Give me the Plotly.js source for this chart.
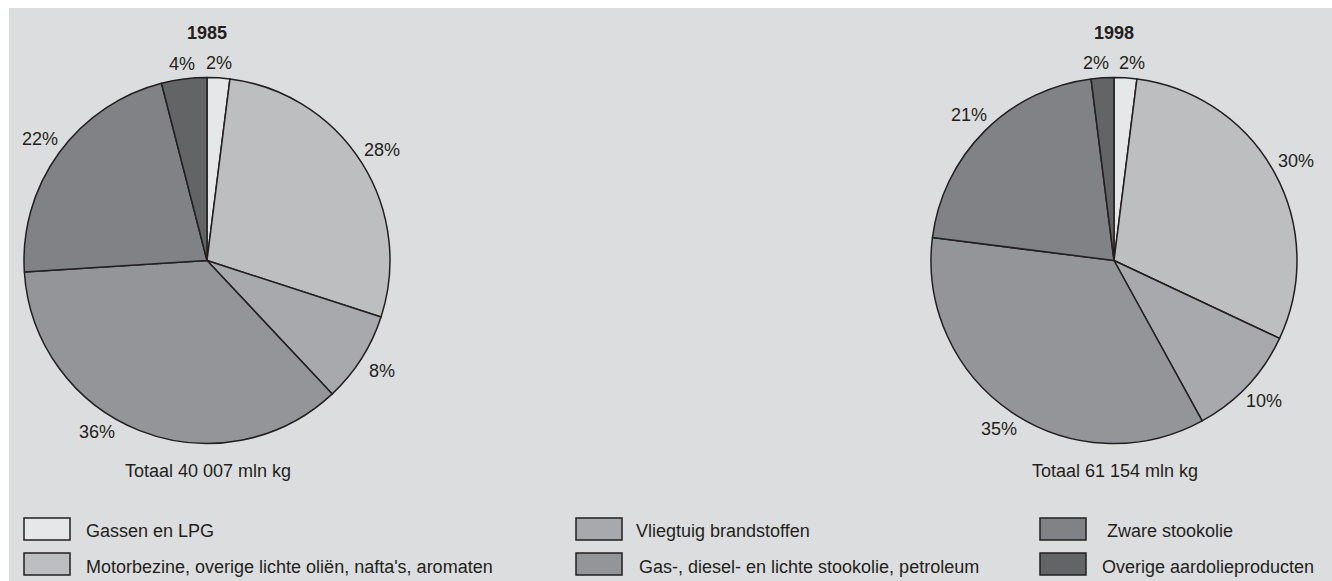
<!DOCTYPE html>
<html>
<head>
<meta charset="utf-8">
<script src="https://cdn.plot.ly/plotly-3.0.1.min.js"></script>
<style>html,body{margin:0;padding:0;background:#fff;}#chart{width:1332px;height:581px;}</style>
</head>
<body>
<div id="chart"></div>
<script>
// ---- data ----
const categories = [
  'Gassen en LPG',
  "Motorbezine, overige lichte oliën, nafta's, aromaten",
  'Vliegtuig brandstoffen',
  'Gas-, diesel- en lichte stookolie, petroleum',
  'Zware stookolie',
  'Overige aardolieproducten'
];
const years = ['1985', '1998'];
const values1985 = [2, 28, 8, 36, 22, 4];
const values1998 = [2, 30, 10, 35, 21, 2];
const totals = ['Totaal 40 007 mln kg', 'Totaal 61 154 mln kg'];

// ---- styling ----
const W = 1332, H = 581;
const colors = ['#e6e7e8', '#bcbec0', '#a7a9ac', '#939598', '#808285', '#636466'];
const ink = '#231f20';
const FONT = 'Liberation Sans, Arial, sans-serif';
const FS = 18;
const px = x => x / W;
const py = y => 1 - y / H;

const R = 183;
const centers = [[207, 260.5], [1114, 260.5]];
const totalsY = 471;
const totalsHalfW = 86;
const seriesValues = [values1985, values1998];

const data = seriesValues.map((vals, i) => {
  const [cx, cy] = centers[i];
  return {
    type: 'pie',
    labels: categories,
    values: vals,
    sort: false,
    direction: 'clockwise',
    rotation: 0,
    marker: {colors: colors, line: {color: ink, width: 1.5}},
    textinfo: 'none',
    hoverinfo: 'none',
    showlegend: false,
    domain: {x: [px(cx - R), px(cx + R)], y: [py(cy + R), py(cy - R)]}
  };
});

const shapes = [{
  type: 'rect', xref: 'paper', yref: 'paper', layer: 'below',
  x0: px(9), x1: 1, y0: 0, y1: py(8),
  fillcolor: '#dcddde', line: {width: 0}
}];
const annotations = [];

// percentage labels placed outside each slice, at its mid angle (same geometry as the pie)
function labelPos(theta, cx, cy) {
  const s = Math.sin(theta), c = Math.cos(theta);
  const D = R + 14 + 12 * Math.abs(s);
  return {x: cx + D * s, y: cy - D * c};
}
function sliceLabels(vals, cx, cy) {
  const total = vals.reduce((a, b) => a + b, 0);
  let cum = 0;
  const labs = vals.map(v => {
    let theta = (cum + v / 2) / total * 2 * Math.PI;
    cum += v;
    const w = (String(v).length * 0.556 + 0.889) * FS;
    let p = labelPos(theta, cx, cy);
    // keep clear of the "Totaal" line under the pie: slide along the rim
    const dir = theta < Math.PI ? -1 : 1;
    let guard = 0;
    while (Math.abs(p.x - cx) < totalsHalfW + w / 2 + 4 &&
           Math.abs(p.y - totalsY) < 39 && guard++ < 90) {
      theta += dir * Math.PI / 180;
      p = labelPos(theta, cx, cy);
    }
    return {x: p.x, y: p.y, text: v + '%', w: w};
  });
  // separate labels that would collide with each other
  for (let iter = 0; iter < 10; iter++) {
    for (let a = 0; a < labs.length; a++) {
      for (let b = a + 1; b < labs.length; b++) {
        const A = labs[a], B = labs[b];
        if (Math.abs(A.y - B.y) < FS) {
          const need = (A.w + B.w) / 2 + 10;
          const d = Math.abs(A.x - B.x);
          if (d < need) {
            const push = (need - d) / 2;
            if (A.x < B.x) { A.x -= push; B.x += push; } else { A.x += push; B.x -= push; }
          }
        }
      }
    }
  }
  return labs;
}

seriesValues.forEach((vals, i) => {
  sliceLabels(vals, centers[i][0], centers[i][1]).forEach(l => {
    annotations.push({
      xref: 'paper', yref: 'paper', x: px(l.x), y: py(l.y),
      xanchor: 'center', yanchor: 'middle', showarrow: false,
      text: l.text, font: {family: FONT, size: FS, color: ink}
    });
  });
});

years.forEach((yr, i) => {
  annotations.push({
    xref: 'paper', yref: 'paper', x: px(centers[i][0]), y: py(33),
    xanchor: 'center', yanchor: 'middle', showarrow: false,
    text: '<b>' + yr + '</b>', font: {family: FONT, size: FS, color: ink}
  });
  annotations.push({
    xref: 'paper', yref: 'paper', x: px(centers[i][0] + 1), y: py(totalsY),
    xanchor: 'center', yanchor: 'middle', showarrow: false,
    text: totals[i], font: {family: FONT, size: FS, color: ink}
  });
});

// legend: 3 columns x 2 rows, column-major order
const colSwatchX = [24, 576, 1040];
const textX = [[84, 84], [634, 637], [1105, 1100]];
const rowSwatchY = [[518, 540], [553, 575]];
const rowTextY = [531, 567];
categories.forEach((cat, k) => {
  const col = Math.floor(k / 2), row = k % 2;
  shapes.push({
    type: 'rect', xref: 'paper', yref: 'paper',
    x0: px(colSwatchX[col]), x1: px(colSwatchX[col] + 46),
    y0: py(rowSwatchY[row][1]), y1: py(rowSwatchY[row][0]),
    fillcolor: colors[k], line: {color: ink, width: 1.5}
  });
  annotations.push({
    xref: 'paper', yref: 'paper', x: px(textX[col][row]), y: py(rowTextY[row]),
    xanchor: 'left', yanchor: 'middle', showarrow: false,
    text: cat, font: {family: FONT, size: FS, color: ink}
  });
});

const layout = {
  width: W, height: H,
  margin: {l: 0, r: 0, t: 0, b: 0},
  paper_bgcolor: '#ffffff',
  showlegend: false,
  shapes: shapes,
  annotations: annotations,
  font: {family: FONT, color: ink}
};

Plotly.newPlot('chart', data, layout, {displayModeBar: false, staticPlot: true});
</script>
</body>
</html>
